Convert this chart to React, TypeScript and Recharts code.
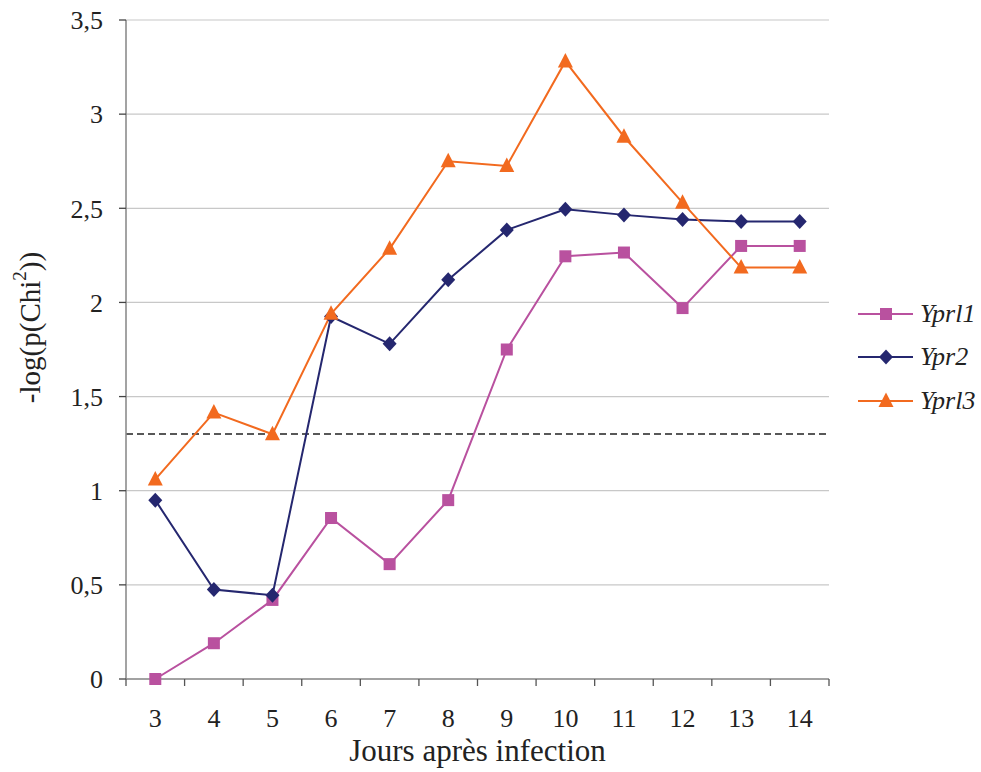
import {
  CartesianGrid,
  Label,
  Line,
  LineChart,
  ReferenceLine,
  XAxis,
  YAxis,
} from "recharts"

const days = [3, 4, 5, 6, 7, 8, 9, 10, 11, 12, 13, 14]
const yprl1 = [0.0, 0.19, 0.42, 0.855, 0.61, 0.95, 1.75, 2.245, 2.265, 1.97, 2.3, 2.3]
const ypr2 = [0.95, 0.475, 0.445, 1.925, 1.78, 2.12, 2.385, 2.495, 2.465, 2.44, 2.43, 2.43]
const yprl3 = [1.06, 1.415, 1.3, 1.94, 2.285, 2.75, 2.725, 3.28, 2.88, 2.53, 2.185, 2.185]
const threshold = 1.301
const yTicks = [0, 0.5, 1, 1.5, 2, 2.5, 3, 3.5]
const xTicks = [2.5, 3, 3.5, 4, 4.5, 5, 5.5, 6, 6.5, 7, 7.5, 8, 8.5, 9, 9.5, 10, 10.5, 11, 11.5, 12, 12.5, 13, 13.5, 14, 14.5]

const series = [
  { key: "yprl1", name: "Yprl1", color: "#B9519F", shape: "square" },
  { key: "ypr2", name: "Ypr2", color: "#25276F", shape: "diamond" },
  { key: "yprl3", name: "Yprl3", color: "#F26A1F", shape: "triangle" },
]

const data = days.map((d, i) => ({ day: d, yprl1: yprl1[i], ypr2: ypr2[i], yprl3: yprl3[i] }))

const FONT = "Liberation Serif, DejaVu Serif, Times New Roman, serif"
const AXIS = "#8c8c8c"
const TICK_SIZE = 7
const TICK_MARGIN = 20

function Marker({ cx, cy, shape, color }: { cx: number; cy: number; shape: string; color: string }) {
  if (cx == null || cy == null) return null
  if (shape === "square") return <rect x={cx - 6} y={cy - 6} width={12} height={12} fill={color} />
  if (shape === "diamond")
    return <path d={`M${cx},${cy - 7.5} L${cx + 7},${cy} L${cx},${cy + 7.5} L${cx - 7},${cy} Z`} fill={color} />
  return <path d={`M${cx},${cy - 8.5} L${cx + 7.5},${cy + 6} L${cx - 7.5},${cy + 6} Z`} fill={color} />
}

function XTick({ x, y, payload }: any) {
  const v = payload.value
  if (Number.isInteger(v)) {
    return (
      <text x={x} y={y} dy="0.8em" textAnchor="middle" style={{ fontFamily: FONT }} fontSize={26} fill="#222">
        {v}
      </text>
    )
  }
  const top = y - TICK_MARGIN - TICK_SIZE
  return <line x1={x} x2={x} y1={top} y2={top + TICK_SIZE} stroke="#555" strokeWidth={1.3} />
}

function YTitle({ viewBox }: any) {
  const cx = 30
  // title sits a little above the plot's middle
  const cy = viewBox.y + viewBox.height / 2 - 22
  return (
    <text
      x={cx}
      y={cy}
      transform={`rotate(-90, ${cx}, ${cy})`}
      textAnchor="middle"
      dominantBaseline="central"
      style={{ fontFamily: FONT }}
      fontSize={29}
      fill="#222"
    >
      -log(p(Chi
      <tspan fontSize={19} dy={-11}>2</tspan>
      <tspan dy={11}>))</tspan>
    </text>
  )
}

function XTitle({ viewBox }: any) {
  const x = viewBox.x + viewBox.width / 2
  return (
    <text x={x} y={761} textAnchor="middle" style={{ fontFamily: FONT }} fontSize={31} fill="#222">
      Jours après infection
    </text>
  )
}

function LegendBox() {
  return (
    <div style={{ position: "absolute", left: 855, top: 292 }}>
      {series.map((s) => (
        <div key={s.key} style={{ display: "flex", alignItems: "center", height: 43.5 }}>
          <svg width={62} height={20}>
            <line x1={3} x2={58} y1={10} y2={10} stroke={s.color} strokeWidth={2} />
            <Marker cx={31} cy={10} shape={s.shape} color={s.color} />
          </svg>
          <span style={{ fontFamily: FONT, fontStyle: "italic", fontSize: 26, color: "#222", marginLeft: 3 }}>
            {s.name}
          </span>
        </div>
      ))}
    </div>
  )
}

export default function App() {
  return (
    <div style={{ position: "absolute", left: 0, top: 0, width: 981, height: 772, background: "#fff", fontFamily: FONT }}>
      <LineChart
        width={981}
        height={772}
        data={data}
        margin={{ top: 20, right: 152, bottom: 0, left: 0 }}
        style={{ fontFamily: FONT }}
      >
        <CartesianGrid vertical={false} stroke="#c8c8c8" strokeWidth={1.2} />
        <XAxis
          dataKey="day"
          type="number"
          domain={[2.5, 14.5]}
          ticks={xTicks}
          interval={0}
          tick={<XTick />}
          tickLine={false}
          tickSize={TICK_SIZE}
          tickMargin={TICK_MARGIN}
          height={93}
          axisLine={{ stroke: AXIS, strokeWidth: 1.6 }}
        >
          <Label content={<XTitle />} />
        </XAxis>
        <YAxis
          domain={[0, 3.5]}
          ticks={yTicks}
          interval={0}
          width={126}
          tickSize={TICK_SIZE}
          tickMargin={16}
          tickFormatter={(v: number) => String(v).replace(".", ",")}
          tick={{ fontSize: 26, fill: "#222", style: { fontFamily: FONT } }}
          tickLine={{ stroke: "#444", strokeWidth: 1.3 }}
          axisLine={{ stroke: AXIS, strokeWidth: 1.6 }}
        >
          <Label content={<YTitle />} />
        </YAxis>
        <ReferenceLine y={threshold} stroke="#222" strokeWidth={1.6} strokeDasharray="7 4" />
        {series.map((s) => (
          <Line
            key={s.key}
            dataKey={s.key}
            name={s.name}
            stroke={s.color}
            strokeWidth={2}
            isAnimationActive={false}
            dot={(p: any) => <Marker key={`${s.key}-${p.index}`} cx={p.cx} cy={p.cy} shape={s.shape} color={s.color} />}
            activeDot={false}
          />
        ))}
      </LineChart>
      <LegendBox />
    </div>
  )
}
